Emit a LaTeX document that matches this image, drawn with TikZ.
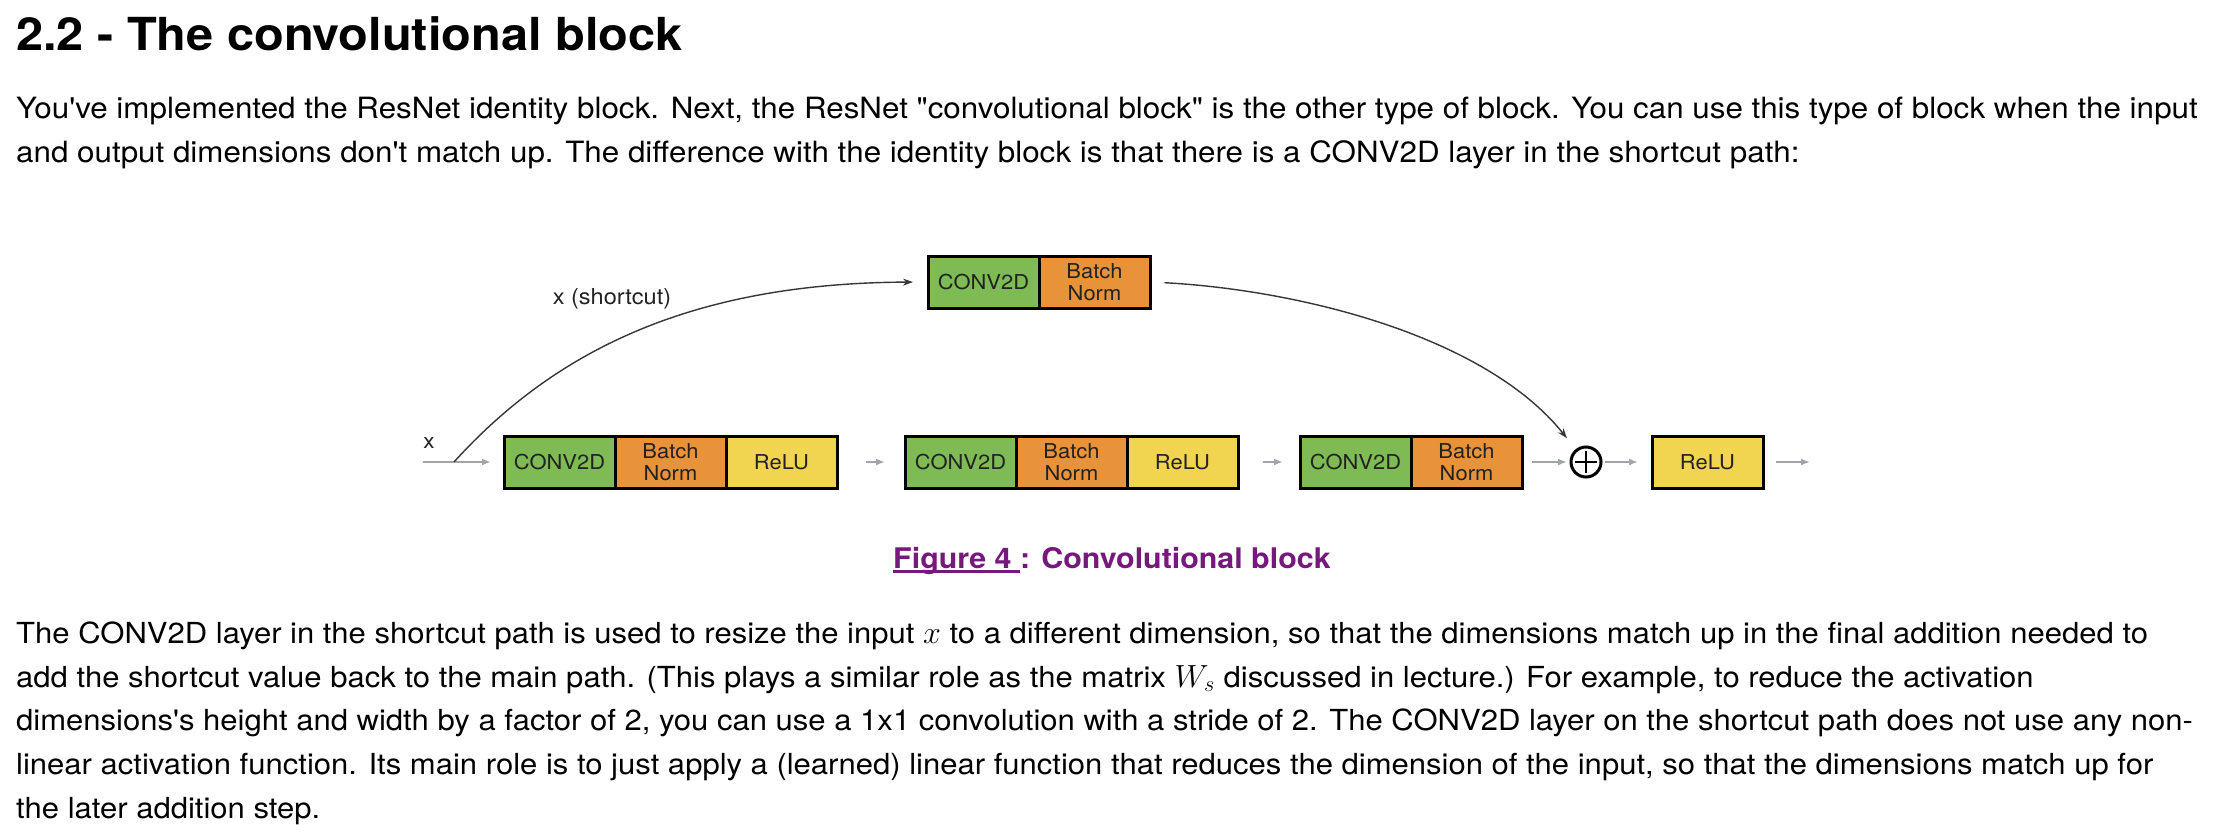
\documentclass[tikz,border=0pt]{standalone}
\usepackage{fix-cm}
\usepackage{fontspec}
\setmainfont{TeX Gyre Heros}[Ligatures=TeXOff, FakeStretch=1.07]
\usetikzlibrary{arrows.meta}
\definecolor{cgreen}{RGB}{127,187,85}
\definecolor{corange}{RGB}{232,146,58}
\definecolor{cyellow}{RGB}{241,212,79}
\definecolor{textdark}{RGB}{34,34,34}
\definecolor{arrowgray}{RGB}{160,164,172}
\definecolor{curvegray}{RGB}{55,55,55}
\definecolor{cpurple}{RGB}{117,25,124}
\newcommand\ulfig[1]{\sbox0{#1}\rlap{\rule[-4.5bp]{\wd0}{2.2bp}}\usebox0}
\newcommand\mjx[1]{{\fontsize{32bp}{35bp}\selectfont$#1$}}
\tikzset{
  cell/.style={draw=black, line width=3bp, minimum width=111bp, minimum height=52bp,
    inner sep=0pt, text=textdark, font=\fontsize{20.5bp}{22bp}\selectfont, align=center},
  convc/.style={cell, fill=cgreen},
  bnc/.style={cell, fill=corange},
  reluc/.style={cell, fill=cyellow},
  mainarrow/.style={draw=arrowgray, line width=1.8bp, -{Latex[length=9bp,width=7bp]}},
  skiparrow/.style={draw=curvegray, line width=1.4bp, -{Stealth[length=10bp,width=7bp]}},
  bodyline/.style={anchor=base west, inner sep=0pt, font=\fontsize{29bp}{35bp}\selectfont},
  smalllabel/.style={inner sep=0pt, text=textdark, font=\fontsize{21bp}{24bp}\selectfont},
}
\begin{document}
\begin{tikzpicture}[x=1bp,y=-1bp]
\useasboundingbox[fill=white] (0,0) rectangle (2218,834);

% heading and first paragraph
\node[anchor=base west, inner sep=0pt, font=\bfseries\fontsize{45.5bp}{50bp}\selectfont] (title) at (16,50) {2.2 - The convolutional block};
\node[bodyline, font=\fontsize{29.3bp}{35bp}\selectfont] (p1a) at (16,118) {You've implemented the ResNet identity block. Next, the ResNet "convolutional block" is the other type of block. You can use this type of block when the input};
\node[bodyline, font=\fontsize{29.3bp}{35bp}\selectfont] (p1b) at (16,162) {and output dimensions don't match up. The difference with the identity block is that there is a CONV2D layer in the shortcut path:};

% shortcut path boxes
\node[convc] (convS) at (983.5,282) {CONV2D};
\node[bnc] (bnS) at (1094.5,282) {Batch\\Norm};

% main path boxes
\node[convc] (conv1) at (559.5,462) {CONV2D};
\node[bnc] (bn1) at (670.5,462) {Batch\\Norm};
\node[reluc] (relu1) at (781.5,462) {ReLU};
\node[convc] (conv2) at (960.5,462) {CONV2D};
\node[bnc] (bn2) at (1071.5,462) {Batch\\Norm};
\node[reluc] (relu2) at (1182.5,462) {ReLU};
\node[convc] (conv3) at (1355.5,462) {CONV2D};
\node[bnc] (bn3) at (1466.5,462) {Batch\\Norm};
\node[circle, draw=black, line width=3bp, minimum size=30bp, inner sep=0pt,
  path picture={
    \draw[line width=2.6bp] ([xshift=-11bp]path picture bounding box.center) -- ([xshift=11bp]path picture bounding box.center);
    \draw[line width=2.6bp] ([yshift=-11bp]path picture bounding box.center) -- ([yshift=11bp]path picture bounding box.center);
  }] (plus) at (1586,462) {};
\node[reluc] (relu4) at (1707.5,462) {ReLU};

\coordinate (in) at (423,462);
\coordinate (split) at (454,462);
\coordinate (out) at (1810,462);

\node[smalllabel, anchor=base] (xlab) at (429,448) {x};
\node[smalllabel, anchor=center, font=\fontsize{22bp}{24bp}\selectfont] (sclab) at (612,299) {x (shortcut)};

% main arrows
\draw[mainarrow, shorten >=11.5bp] (in) -- (conv1.west);
\draw[mainarrow, shorten <=27.5bp, shorten >=18.5bp] (relu1.east) -- (conv2.west);
\draw[mainarrow, shorten <=23.5bp, shorten >=15.5bp] (relu2.east) -- (conv3.west);
\draw[mainarrow, shorten <=8.5bp, shorten >=2.5bp] (bn3.east) -- (plus.west);
\draw[mainarrow, shorten <=2.5bp, shorten >=12.5bp] (plus.east) -- (relu4.west);
\draw[mainarrow, shorten <=11.5bp] (relu4.east) -- (out);

% shortcut curves
\draw[skiparrow, shorten >=13.5bp] (split) .. controls (560,345) and (700,283) .. (convS.west);
\draw[skiparrow, shorten <=13bp, shorten >=14bp] (bnS.east) .. controls (1300,290) and (1485,336) .. (plus);

% caption
\node[anchor=base, inner sep=0pt, text=cpurple, font=\bfseries\fontsize{28.4bp}{35bp}\selectfont] (cap) at (1112,568) {\ulfig{Figure 4 }: Convolutional block};

% second paragraph
\node[bodyline] (p2a) at (16,643) {The CONV2D layer in the shortcut path is used to resize the input \mjx{x} to a different dimension, so that the dimensions match up in the final addition needed to};
\node[bodyline] (p2b) at (16,687) {add the shortcut value back to the main path. (This plays a similar role as the matrix \mjx{W_s} discussed in lecture.) For example, to reduce the activation};
\node[bodyline] (p2c) at (16,730) {dimensions's height and width by a factor of 2, you can use a 1x1 convolution with a stride of 2. The CONV2D layer on the shortcut path does not use any non-};
\node[bodyline] (p2d) at (16,774) {linear activation function. Its main role is to just apply a (learned) linear function that reduces the dimension of the input, so that the dimensions match up for};
\node[bodyline] (p2e) at (16,818) {the later addition step.};
\end{tikzpicture}
\end{document}
